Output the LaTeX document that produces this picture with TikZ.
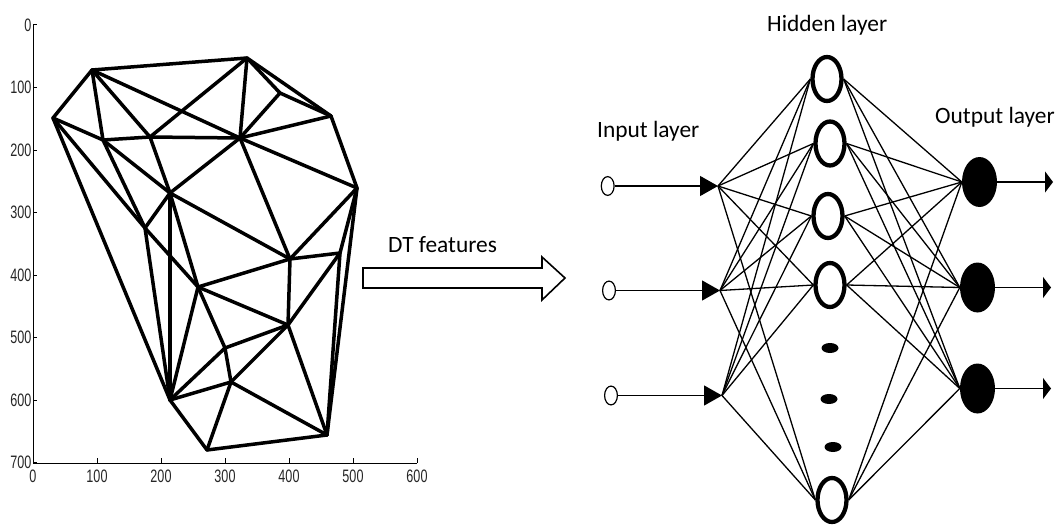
\documentclass[tikz,border=0pt]{standalone}
\usepackage{graphicx}
\usepackage{fontspec}
\setmainfont{Carlito}
\newfontfamily\tickfont{Liberation Sans}
\usetikzlibrary{arrows.meta,shapes.geometric}
\begin{document}
\begin{tikzpicture}[x=1pt,y=-1pt,
  mesh/.style={line width=3.5pt,line join=round,line cap=round},
  axisline/.style={line width=1pt},
  ticklab/.style={font=\tickfont\fontsize{18}{18}\selectfont, inner sep=0pt, text=black!85},
  lab/.style={font=\fontsize{23.4}{28}\selectfont, inner sep=0pt, anchor=base west},
  innode/.style={ellipse, draw, line width=1.2pt, minimum width=12.8pt, minimum height=18.8pt, inner sep=0pt},
  hidnode/.style={ellipse, draw, line width=4.3pt, minimum width=29pt, minimum height=44pt, inner sep=0pt},
  outnode/.style={ellipse, fill=black, minimum width=35pt, minimum height=50pt, inner sep=0pt},
  dotnode/.style={ellipse, fill=black, minimum width=17pt, minimum height=10pt, inner sep=0pt},
  conn/.style={line width=1.3pt},
  hollow/.style={line width=1.6pt, line join=miter},
]
\useasboundingbox (0,0) rectangle (1061,527);

% ---------------- axes ----------------
\coordinate (ax0) at (33,25);
\coordinate (axc) at (33,463);
\coordinate (ax1) at (417,463);
\draw[axisline] (ax0) -- (axc) -- (ax1);
\foreach \v/\t in {0/0,1/100,2/200,3/300,4/400,5/500,6/600,7/700}{
  \draw[axisline] (33,25+62.5*\v) -- (37,25+62.5*\v);
  \node[ticklab, anchor=east] (yl\v) at (31.5,25+62.5*\v) {\scalebox{0.7}[1]{\t}};
}
\foreach \v/\t in {0/0,1/100,2/200,3/300,4/400,5/500,6/600}{
  \draw[axisline] (33+64*\v,463) -- (33+64*\v,458);
  \node[ticklab, anchor=north] (xl\v) at (33+64*\v,469.5) {\scalebox{0.7}[1]{\t}};
}

% ---------------- triangulation ----------------
\coordinate (A) at (92,70);
\coordinate (B) at (247,58);
\coordinate (C) at (53,118);
\coordinate (D) at (331,116);
\coordinate (E) at (357,188);
\coordinate (F) at (327,435);
\coordinate (G) at (207,450);
\coordinate (H) at (170,400);
\coordinate (I) at (103,140);
\coordinate (P) at (150,137);
\coordinate (J) at (240,138);
\coordinate (R) at (280,93);
\coordinate (K) at (170,193);
\coordinate (L) at (145,228);
\coordinate (Q) at (198,287);
\coordinate (T) at (290,259);
\coordinate (U) at (340,253);
\coordinate (M) at (288,325);
\coordinate (N) at (225,348);
\coordinate (O) at (231,382);
\foreach \a/\b in {A/B,A/C,A/I,A/P,A/J,
  B/P,B/J,B/R,B/D,
  C/I,C/L,C/H,
  D/R,D/J,D/E,
  E/J,E/T,E/U,E/F,
  F/U,F/M,F/O,F/G,
  G/H,G/O,
  H/L,H/K,H/Q,H/N,H/O,
  I/P,I/L,I/K,
  P/J,P/K,
  J/R,J/K,J/T,
  K/L,K/T,K/Q,
  L/Q,
  Q/T,Q/M,Q/N,
  T/U,T/M,U/M,
  M/N,M/O,N/O}{
  \draw[mesh] (\a) -- (\b);
}

% ---------------- hollow arrow ----------------
\coordinate (ha0) at (363,268);
\draw[hollow] (ha0) -- (542,268) -- (542,257) -- (565,278) -- (542,300) -- (542,288) -- (363,288) -- cycle;
\node[lab] (dt) at (388,252) {DT features};

% ---------------- network ----------------
\node[lab] (inl) at (597,137) {Input layer};
\node[lab] (hidl) at (767,32) {Hidden layer};
\node[lab] (outl) at (935,124) {Output layer};

\node[innode] (i1) at (607.7,186) {};
\node[innode] (i2) at (609,290.5) {};
\node[innode] (i3) at (611,395.5) {};
\coordinate (t1) at (718,186);
\coordinate (t2) at (720,290.5);
\coordinate (t3) at (722,395.5);
\foreach \i in {1,2,3}{
  \draw[conn,-{Triangle[length=18pt,width=20pt]}] (i\i) -- (t\i);
}

\node[hidnode] (h1) at (827,79) {};
\node[hidnode] (h2) at (830,143.5) {};
\node[hidnode] (h3) at (828,216) {};
\node[hidnode] (h4) at (830,285) {};
\node[hidnode] (h5) at (832,500) {};
\node[dotnode] (d1) at (830,348) {};
\node[dotnode] (d2) at (829,399) {};
\node[dotnode] (d3) at (833,447) {};

\node[outnode] (o1) at (979.5,182) {};
\node[outnode] (o2) at (977.5,287.5) {};
\node[outnode] (o3) at (977.5,388.5) {};
\coordinate (e1) at (1053,182);
\coordinate (e2) at (1051,287.5);
\coordinate (e3) at (1051,388.5);
\foreach \o in {1,2,3}{
  \draw[conn,-{Triangle[length=8pt,width=21pt]}] (o\o) -- (e\o);
}

\foreach \i in {1,2,3}{
  \foreach \h in {1,...,5}{
    \draw[conn] (t\i) -- (h\h.west);
  }
}
\foreach \h in {1,...,5}{
  \foreach \o in {1,2,3}{
    \draw[conn] (h\h.east) -- (o\o.west);
  }
}
\end{tikzpicture}
\end{document}
